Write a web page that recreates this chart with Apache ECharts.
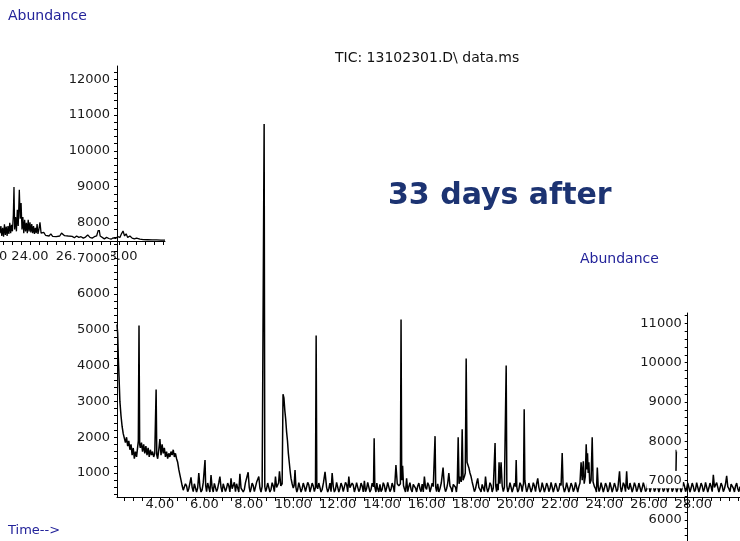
<!DOCTYPE html>
<html>
<head>
<meta charset="utf-8">
<script src="https://cdn.jsdelivr.net/npm/echarts@6/dist/echarts.min.js"></script>
<style>html,body{margin:0;padding:0;background:#fff}#c{width:740px;height:541px}</style>
</head>
<body>
<div id="c"></div>
<script>
// ---- tick labels ----
const mainXLabels = [4, 6, 8, 10, 12, 14, 16, 18, 20, 22, 24, 26, 28];
const mainYLabels = [1000, 2000, 3000, 4000, 5000, 6000, 7000, 8000, 9000, 10000, 11000, 12000];
const insetXLabels = [24, 26, 28];
const rightYLabels = [6000, 7000, 8000, 9000, 10000, 11000];

// ---- main TIC trace [time (min), abundance] ----
const mainTrace = [
[2.07,5150],[2.10,4900],[2.13,4200],[2.16,3700],[2.20,3000],[2.25,2600],[2.30,2300],[2.35,2100],[2.40,2050],[2.45,1850],
[2.50,2000],[2.55,1750],[2.60,1900],[2.65,1650],[2.70,1800],[2.75,1500],[2.80,1700],[2.85,1400],[2.90,1600],[2.95,1450],
[3.00,1500],[3.03,1900],[3.06,5120],[3.09,1800],[3.12,1700],[3.17,1850],[3.22,1600],[3.27,1800],[3.32,1550],[3.37,1750],
[3.42,1500],[3.47,1700],[3.52,1450],[3.57,1650],[3.62,1500],[3.67,1600],[3.72,1450],[3.77,1550],[3.80,1500],[3.83,3330],
[3.86,1500],[3.90,1400],[3.95,1650],[4.00,1950],[4.05,1500],[4.10,1800],[4.15,1550],[4.20,1700],[4.25,1450],[4.30,1600],
[4.35,1400],[4.40,1550],[4.45,1450],[4.50,1600],[4.55,1500],[4.60,1650],[4.65,1450],[4.70,1550],[4.75,1400],[4.80,1300],
[4.85,1100],[4.90,950],[4.95,800],[5.00,650],[5.05,520],
[5.10,480],[5.15,700],[5.20,640],[5.25,480],[5.30,560],[5.35,720],[5.40,880],[5.45,600],[5.50,480],[5.55,700],[5.60,690],[5.65,470],[5.70,580],[5.75,1000],[5.80,620],[5.85,470],[5.90,530],[5.95,730],
[6.00,700],[6.03,1360],[6.06,650],[6.10,480],[6.15,720],[6.20,680],[6.25,470],[6.30,940],[6.35,590],[6.40,470],[6.45,710],[6.50,660],[6.55,480],[6.60,570],[6.65,730],[6.70,900],
[6.75,600],[6.80,470],[6.85,700],[6.90,700],[6.95,480],[7.00,580],[7.05,720],[7.10,640],[7.15,470],[7.20,850],[7.25,560],[7.30,610],[7.35,740],[7.40,480],[7.45,700],[7.50,690],[7.55,470],[7.60,980],
[7.65,580],[7.70,630],[7.75,470],[7.80,540],[7.85,730],[7.90,680],[7.97,1020],[8.02,600],[8.06,470],[8.10,560],[8.15,720],[8.20,650],[8.25,480],[8.30,530],[8.35,740],[8.40,700],[8.45,900],
[8.50,580],[8.55,470],[8.60,620],[8.66,600],[8.69,10750],[8.72,620],[8.76,480],[8.80,560],[8.85,720],[8.90,680],[8.95,470],[9.00,540],[9.05,730],[9.10,640],[9.15,480],[9.20,900],[9.25,600],
[9.30,560],[9.34,720],[9.38,1050],[9.44,640],[9.50,700],[9.54,3200],[9.58,3100],[9.62,2750],[9.66,2500],[9.70,2150],[9.74,1900],
[9.78,1550],[9.82,1300],[9.86,1050],[9.90,850],[9.95,700],[10.00,580],[10.04,650],[10.08,1080],[10.12,600],[10.16,470],[10.20,540],[10.25,730],
[10.30,690],[10.35,470],[10.40,560],[10.45,720],[10.50,620],[10.55,480],[10.60,520],[10.65,740],[10.70,670],[10.75,470],[10.80,580],[10.85,720],[10.90,640],[10.95,480],[11.00,600],[11.03,4840],[11.06,620],
[11.10,560],[11.15,720],[11.20,680],[11.25,470],[11.30,540],[11.36,730],[11.43,1030],[11.50,600],[11.55,470],[11.60,560],[11.65,720],[11.70,480],[11.75,1000],[11.80,620],[11.85,470],[11.90,540],[11.95,740],[12.00,690],
[12.05,470],[12.10,570],[12.15,720],[12.20,630],[12.25,480],[12.30,520],[12.35,740],[12.40,680],[12.45,470],[12.50,900],[12.55,590],[12.60,540],[12.65,720],[12.70,660],[12.75,470],[12.80,580],[12.85,730],[12.90,700],[12.95,480],
[13.00,550],[13.05,720],[13.10,640],[13.15,470],[13.20,780],[13.25,480],[13.30,560],[13.35,740],[13.40,700],[13.45,470],[13.50,540],[13.55,720],[13.61,620],[13.64,1970],[13.67,610],[13.72,470],[13.76,720],[13.80,560],[13.85,470],
[13.90,680],[13.95,480],[14.00,540],[14.05,730],[14.10,650],[14.15,470],[14.20,580],[14.25,740],[14.30,700],[14.35,480],[14.40,550],[14.45,720],[14.50,620],[14.55,470],[14.62,1220],[14.68,700],[14.75,640],
[14.82,700],[14.85,5290],[14.88,800],[14.92,1200],[14.96,650],[15.00,560],[15.05,470],[15.10,850],[15.15,480],[15.20,620],[15.25,730],[15.30,540],[15.35,470],[15.40,680],[15.45,720],
[15.50,580],[15.55,470],[15.60,640],[15.65,720],[15.70,560],[15.75,480],[15.80,690],[15.85,470],[15.90,900],[15.95,600],[16.00,540],[16.05,730],[16.10,660],[16.15,470],[16.20,580],[16.25,720],[16.30,620],
[16.35,600],[16.38,2030],[16.41,600],[16.45,480],[16.50,700],[16.55,470],[16.60,560],[16.66,720],[16.74,1150],[16.80,620],[16.85,480],[16.90,560],[16.95,720],[17.00,1000],[17.05,640],
[17.10,580],[17.15,470],[17.20,680],[17.25,720],[17.30,600],[17.34,470],[17.38,700],[17.42,2000],[17.46,700],[17.52,900],[17.56,750],[17.60,2220],[17.64,800],
[17.70,900],[17.74,1000],[17.78,4200],[17.82,1300],[17.86,1250],[17.90,1150],[17.95,1000],[18.00,900],[18.05,750],[18.10,620],
[18.15,480],[18.20,560],[18.25,720],[18.30,850],[18.35,600],[18.40,540],[18.45,470],[18.50,680],[18.55,720],[18.60,480],[18.65,900],[18.70,600],[18.75,470],[18.80,560],[18.85,730],[18.90,660],[18.95,470],[19.00,580],
[19.05,620],[19.08,1840],[19.11,640],[19.15,480],[19.18,700],[19.22,520],[19.26,1300],[19.30,700],[19.35,1300],[19.40,650],[19.45,480],[19.50,600],[19.55,640],
[19.58,4000],[19.61,650],[19.65,470],[19.70,560],[19.75,730],[19.80,680],[19.85,470],[19.90,580],[19.95,720],[20.00,620],[20.03,1360],[20.06,600],[20.10,470],[20.15,540],[20.20,730],[20.25,660],[20.30,480],
[20.33,620],[20.36,700],[20.39,2780],[20.42,800],[20.46,620],[20.50,470],[20.55,560],[20.60,720],[20.65,680],[20.70,470],[20.75,560],[20.80,730],[20.85,640],[20.90,480],[20.95,700],[21.00,850],
[21.05,600],[21.10,470],[21.15,540],[21.20,730],[21.25,690],[21.30,470],[21.35,580],[21.40,720],[21.45,640],[21.50,480],[21.55,560],[21.60,740],[21.65,700],[21.70,470],[21.75,580],[21.80,720],[21.85,620],[21.90,480],[21.95,540],
[22.00,720],[22.05,650],[22.10,1560],[22.14,640],[22.20,470],[22.25,560],[22.30,730],[22.35,680],[22.40,470],[22.45,580],[22.50,720],[22.55,640],[22.60,480],[22.65,560],[22.70,740],[22.75,700],[22.80,470],[22.85,620],[22.90,720],
[22.95,1300],[23.00,800],[23.05,1330],[23.09,700],[23.14,900],[23.18,1800],[23.22,1100],[23.24,1550],[23.27,1000],[23.30,1300],
[23.34,700],[23.40,800],[23.45,2000],[23.49,750],[23.55,620],[23.60,560],[23.64,470],[23.68,1150],[23.72,620],[23.76,480],[23.80,560],[23.85,730],[23.90,680],[23.95,470],
[24.00,580],[24.05,720],[24.10,640],[24.15,470],[24.20,540],[24.25,740],[24.30,690],[24.35,470],[24.40,580],[24.45,720],[24.50,620],[24.55,480],[24.60,540],[24.68,1050],[24.72,620],[24.76,470],[24.80,560],[24.85,730],
[24.90,660],[24.95,480],[25.00,1050],[25.04,600],[25.10,540],[25.15,720],[25.20,680],[25.25,470],[25.30,580],[25.35,730],[25.40,640],[25.45,480],[25.50,560],[25.55,720],[25.60,700],[25.65,470],[25.70,580],[25.75,730],
[25.80,620],[25.85,480],[25.90,540],[25.95,720],[26.00,660],[26.05,470],[26.10,580],[26.15,740],[26.20,640],[26.25,480],[26.30,560],[26.35,720],[26.40,700],[26.45,470],[26.50,580],[26.55,720],[26.60,620],[26.65,480],[26.70,540],[26.75,730],
[26.80,680],[26.85,470],[26.90,580],[26.95,720],[27.00,640],[27.05,480],[27.10,560],[27.15,730],[27.20,620],[27.25,470],[27.30,560],[27.35,720],[27.40,690],[27.45,470],[27.50,580],[27.55,740],[27.60,640],[27.65,480],[27.70,560],[27.75,720],
[27.80,700],[27.85,470],[27.90,580],[27.95,720],[28.00,620],[28.05,480],[28.10,540],[28.15,730],[28.20,680],[28.25,470],[28.30,580],[28.35,720],[28.40,640],[28.45,480],[28.50,560],[28.55,740],[28.60,700],[28.65,470],[28.70,580],[28.75,720],
[28.80,620],[28.85,480],[28.90,950],[28.95,600],[29.00,560],[29.05,730],[29.10,680],[29.15,470],[29.20,580],[29.25,720],[29.30,640],[29.35,480],[29.40,560],[29.45,700],[29.50,920],[29.55,620],
[29.60,560],[29.65,480],[29.70,690],[29.75,720],[29.80,580],[29.85,470],[29.90,640],[29.95,720],[30.00,560],[30.05,480],[30.10,620]
];
// small detached fragment near 27.2 min
const fragment = [[27.22,1650],[27.22,1060],[27.25,1060],[27.25,1600]];

// ---- pasted inset trace (upper left), same abundance scale ----
const insetTrace = [
[22.65,7700],[22.69,7900],[22.73,7620],[22.77,7850],[22.81,7600],[22.85,7950],[22.89,7650],[22.93,7880],[22.97,7620],[23.01,7900],
[23.05,7680],[23.09,7990],[23.13,7700],[23.17,7930],[23.21,7750],[23.25,8200],[23.28,8990],[23.31,7800],[23.35,8150],[23.39,7750],
[23.43,8350],[23.47,7900],[23.52,8910],[23.56,8100],[23.60,8540],[23.64,7800],[23.68,8150],[23.72,7700],[23.76,8070],[23.80,7750],
[23.84,7990],[23.88,7700],[23.92,8070],[23.96,7750],[24.00,8000],[24.04,7720],[24.08,7950],[24.12,7700],[24.16,7900],[24.20,7680],
[24.24,7850],[24.28,7700],[24.32,7950],[24.36,7680],[24.40,7800],[24.45,8000],[24.50,7700],[24.55,7650],[24.62,7720],[24.70,7640],
[24.78,7690],[24.86,7620],[24.94,7680],[25.02,7610],[25.10,7660],[25.18,7600],[25.26,7650],[25.34,7620],[25.42,7700],[25.49,7740],
[25.56,7630],[25.64,7590],[25.72,7620],[25.80,7580],[25.90,7610],[26.00,7570],[26.10,7620],[26.20,7580],[26.30,7600],[26.40,7560],
[26.50,7590],[26.60,7650],[26.70,7580],[26.80,7560],[26.90,7600],[27.00,7620],[27.06,7750],[27.11,7820],[27.16,7620],[27.25,7570],
[27.35,7540],[27.45,7580],[27.55,7550],[27.65,7530],[27.75,7570],[27.85,7550],[27.95,7600],[28.05,7580],[28.12,7680],[28.19,7760],
[28.26,7620],[28.33,7680],[28.40,7580],[28.50,7620],[28.60,7560],[28.70,7540],[28.80,7560],[28.95,7530],[29.10,7520],[29.30,7515],
[29.50,7510],[29.70,7510],[29.90,7505],[30.08,7505]
];

// tick positions
function steps(a, b, s) { const r = []; for (let v = a; v <= b + 1e-9; v += s) r.push(Math.round(v * 100) / 100); return r; }
const mainXTicks = steps(2.4, 30.0, 0.4);
const insetXTicks = steps(22.8, 30.0, 0.4);
const mainYMinor = steps(400, 12200, 200);
const rightYMinor = steps(5600, 11200, 200);

const FONT = 'DejaVu Sans';
const LBL = '#1a1a1a';
const BLUE = '#23239a';
const plain = v => String(v);

const chart = echarts.init(document.getElementById('c'), null, { renderer: 'canvas' });
chart.setOption({
  animation: false,
  backgroundColor: '#fff',
  grid: [
    { left: 117, top: 66, width: 623, height: 431 },
    { left: 0, top: 66, width: 165, height: 175 },
    { left: 687.7, top: 313, width: 60, height: 228 }
  ],
  xAxis: [
    { gridIndex: 0, type: 'value', min: 2.07, max: 30.1, z: 2,
      axisLine: { show: true, onZero: false, lineStyle: { color: '#000', width: 1 } },
      axisTick: { show: true, customValues: mainXTicks, length: 4, lineStyle: { color: '#000' } },
      axisLabel: { customValues: mainXLabels, formatter: v => v.toFixed(2), margin: 1, fontFamily: FONT, fontSize: 13, color: LBL, hideOverlap: false },
      splitLine: { show: false } },
    { gridIndex: 1, type: 'value', min: 22.65, max: 30.08, z: 1,
      axisLine: { show: true, onZero: false, lineStyle: { color: '#000', width: 1 } },
      axisTick: { show: true, customValues: insetXTicks, length: 4, lineStyle: { color: '#000' } },
      axisLabel: { customValues: insetXLabels, formatter: v => v.toFixed(2), margin: 9, fontFamily: FONT, fontSize: 13, color: LBL,
                   hideOverlap: false, showMinLabel: true, showMaxLabel: true },
      splitLine: { show: false } },
    { gridIndex: 2, type: 'value', min: 27.9, max: 30.6, show: false }
  ],
  yAxis: [
    { gridIndex: 0, type: 'value', min: 330, max: 12370, z: 5,
      axisLine: { show: true, onZero: false, lineStyle: { color: '#000', width: 1 } },
      axisTick: { show: true, customValues: mainYMinor, length: 3, lineStyle: { color: '#000' } },
      axisLabel: { customValues: mainYLabels, formatter: plain, margin: 6, fontFamily: FONT, fontSize: 13, color: LBL,
                   backgroundColor: '#fff', padding: [1, 1, 1, 2] },
      splitLine: { show: false } },
    { gridIndex: 0, type: 'value', min: 330, max: 12370, z: 5,
      axisLine: { show: false },
      axisTick: { show: true, customValues: mainYLabels, length: 5, lineStyle: { color: '#000' } },
      axisLabel: { show: false }, splitLine: { show: false } },
    { gridIndex: 1, type: 'value', min: 7480, max: 12370, show: false },
    { gridIndex: 2, type: 'value', min: 5466, max: 11262, z: 6,
      axisLine: { show: true, onZero: false, lineStyle: { color: '#000', width: 1 } },
      axisTick: { show: true, customValues: rightYMinor, length: 3, lineStyle: { color: '#000' } },
      axisLabel: { customValues: rightYLabels, formatter: plain, margin: 5, fontFamily: FONT, fontSize: 13, color: LBL,
                   backgroundColor: '#fff', padding: [1, 1, 1, 2] },
      splitLine: { show: false } }
  ],
  series: [
    { type: 'line', xAxisIndex: 0, yAxisIndex: 0, data: mainTrace, showSymbol: false, symbol: 'none',
      lineStyle: { color: '#000', width: 1.5 }, z: 3 },
    { type: 'line', xAxisIndex: 0, yAxisIndex: 0, data: fragment, showSymbol: false, symbol: 'none',
      lineStyle: { color: '#000', width: 1 }, z: 3 },
    { type: 'line', xAxisIndex: 1, yAxisIndex: 2, data: insetTrace, showSymbol: false, symbol: 'none',
      lineStyle: { color: '#000', width: 1.3 }, z: 1 }
  ],
  graphic: [
    { type: 'text', left: 8, top: 9, z: 10, style: { text: 'Abundance', font: '14px "DejaVu Sans"', fill: BLUE } },
    { type: 'text', left: 580, top: 252, z: 10, style: { text: 'Abundance', font: '14px "DejaVu Sans"', fill: BLUE } },
    { type: 'text', left: 8, top: 524, z: 10, style: { text: 'Time-->', font: '13px "DejaVu Sans"', fill: BLUE } },
    { type: 'text', left: -30, top: 250, z: 0, style: { text: '22.00', font: '13px "DejaVu Sans"', fill: LBL } },
    { type: 'text', left: 335, top: 51, z: 10, style: { text: 'TIC: 13102301.D\\ data.ms', font: '14px "DejaVu Sans"', fill: '#111' } },
    { type: 'text', left: 388, top: 181, z: 10, style: { text: '33 days after', font: 'bold 30px "DejaVu Sans"', fill: '#1c3372' } }
  ]
});
</script>
</body>
</html>
